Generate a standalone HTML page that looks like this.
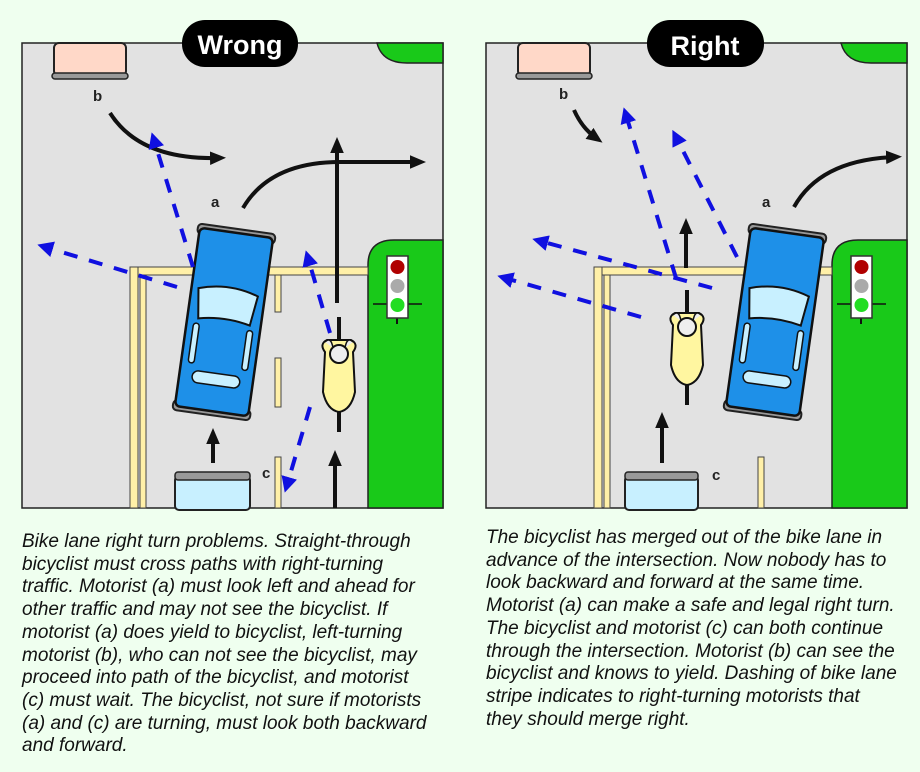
<!DOCTYPE html>
<html><head><meta charset="utf-8"><style>
html,body{margin:0;padding:0;background:#efffef;}
body{width:920px;height:772px;position:relative;overflow:hidden;font-family:"Liberation Sans",sans-serif;}
.t{position:absolute;font-style:italic;font-size:19px;line-height:22.7px;color:#111;white-space:nowrap;}
</style></head><body>
<svg width="920" height="772" style="position:absolute;left:0;top:0">
<defs>
<marker id="ah" markerWidth="4" markerHeight="4" refX="2" refY="2" orient="auto" markerUnits="strokeWidth"><path d="M0,0.3 L4,2 L0,3.7 Z" fill="#111"/></marker>
<marker id="bh" markerWidth="4" markerHeight="4" refX="2" refY="2" orient="auto" markerUnits="strokeWidth"><path d="M0,0 L4,2 L0,4 Z" fill="#1010e0"/></marker>
<g id="car">
<rect x="-39" y="-94" width="78" height="10" rx="4" fill="#999" stroke="#222" stroke-width="2"/>
<rect x="-39" y="84" width="78" height="10" rx="4" fill="#999" stroke="#222" stroke-width="2"/>
<rect x="-37" y="-90" width="74" height="180" rx="5" fill="#1e90e8" stroke="#111" stroke-width="2.5"/>
<path d="M-30,-30 Q0,-40 30,-30 L26,0 Q0,-6 -26,0 Z" fill="#c8f0ff" stroke="#111" stroke-width="2"/>
<rect x="-30" y="5" width="6" height="40" rx="3" fill="#c8f0ff" stroke="#111" stroke-width="1.5"/>
<rect x="24" y="5" width="6" height="40" rx="3" fill="#c8f0ff" stroke="#111" stroke-width="1.5"/>
<rect x="-24" y="52" width="48" height="12" rx="6" fill="#c8f0ff" stroke="#111" stroke-width="1.5"/>
</g>
<g id="bike">
<line x1="0" y1="-55" x2="0" y2="60" stroke="#111" stroke-width="4"/>
<path d="M-14,-20 Q-20,-28 -12,-32 L12,-32 Q20,-28 14,-20 L16,20 Q12,38 0,40 Q-12,38 -16,20 Z" fill="#fff6a0" stroke="#111" stroke-width="2"/>
<circle cx="0" cy="-18" r="9" fill="#eee" stroke="#111" stroke-width="2"/>
<path d="M-14,-30 Q-8,-36 -6,-24 M14,-30 Q8,-36 6,-24" fill="#eee" stroke="#111" stroke-width="1.5"/>
</g>
<g id="light">
<line x1="-14" y1="48" x2="35" y2="48" stroke="#111" stroke-width="1.5"/>
<line x1="10" y1="60" x2="10" y2="68" stroke="#111" stroke-width="2"/>
<rect x="0" y="0" width="21" height="62" fill="#fff" stroke="#333" stroke-width="1.5"/>
<circle cx="10.5" cy="11" r="7" fill="#b00000"/>
<circle cx="10.5" cy="30" r="7" fill="#aaa"/>
<circle cx="10.5" cy="49" r="7" fill="#22dd22"/>
</g>
<g id="base">
<rect x="0" y="0" width="421" height="465" fill="#e2e2e2" stroke="#222" stroke-width="1.5"/>
<path d="M355,0 Q360,20 385,20 L421,20 L421,0 Z" fill="#19c919" stroke="#222" stroke-width="1.5"/>
<path d="M346,465 L346,222 Q346,197 372,197 L421,197 L421,465 Z" fill="#19c919" stroke="#222" stroke-width="1.5"/>
<rect x="108" y="224" width="238" height="8" fill="#fff0a8" stroke="#444" stroke-width="1"/>
<rect x="108" y="224" width="8" height="241" fill="#fff0a8" stroke="#444" stroke-width="1"/>
<rect x="118" y="232" width="6" height="233" fill="#fff0a8" stroke="#444" stroke-width="1"/>
<rect x="32" y="0" width="72" height="33" rx="5" fill="#ffd8c8" stroke="#222" stroke-width="2"/>
<rect x="30" y="30" width="76" height="6" rx="3" fill="#999" stroke="#222" stroke-width="1.5"/>
<use href="#light" x="365" y="213"/>
</g>
</defs>

<!-- LEFT PANEL -->
<g transform="translate(22,43)">
<use href="#base"/>
<rect x="253" y="232" width="6" height="37" fill="#fff0a8" stroke="#444" stroke-width="1"/>
<rect x="253" y="315" width="6" height="49" fill="#fff0a8" stroke="#444" stroke-width="1"/>
<rect x="253" y="414" width="6" height="51" fill="#fff0a8" stroke="#444" stroke-width="1"/>
<rect x="153" y="433" width="75" height="34" rx="4" fill="#c8f0ff" stroke="#222" stroke-width="2"/>
<rect x="153" y="429" width="75" height="8" rx="3" fill="#999" stroke="#222" stroke-width="1.5"/>
</g>
<g fill="none" stroke="#111" stroke-width="4">
<path d="M110,113 Q140,160 218,158" marker-end="url(#ah)"/>
<path d="M243,208 Q270,162 340,162 L418,162" marker-end="url(#ah)"/>
<path d="M337,303 L337,145" marker-end="url(#ah)"/>
<path d="M213,463 L213,436" marker-end="url(#ah)"/>
<path d="M335,508 L335,458" marker-end="url(#ah)"/>
</g>
<g transform="translate(224,322) rotate(8)"><use href="#car"/></g>
<g transform="translate(339,372)"><use href="#bike"/></g>
<g fill="none" stroke="#1010e0" stroke-width="4" stroke-dasharray="14,12">
<path d="M177,287 L45,247" marker-end="url(#bh)"/>
<path d="M193,267 L154,140" marker-end="url(#bh)"/>
<path d="M330,333 L308,258" marker-end="url(#bh)"/>
<path d="M310,407 L287,485" marker-end="url(#bh)"/>
</g>
<rect x="182" y="20" width="116" height="47" rx="23" fill="#000"/>
<text x="240" y="54" text-anchor="middle" font-family="Liberation Sans" font-weight="bold" font-size="27" fill="#fff">Wrong</text>
<g font-family="Liberation Sans" font-weight="bold" font-size="15" fill="#222">
<text x="93" y="101">b</text><text x="211" y="207">a</text><text x="262" y="478">c</text>
</g>

<!-- RIGHT PANEL -->
<g transform="translate(486,43)">
<use href="#base"/>
<rect x="272" y="414" width="6" height="51" fill="#fff0a8" stroke="#444" stroke-width="1"/>
<rect x="139" y="433" width="73" height="34" rx="4" fill="#c8f0ff" stroke="#222" stroke-width="2"/>
<rect x="139" y="429" width="73" height="8" rx="3" fill="#999" stroke="#222" stroke-width="1.5"/>
</g>
<g fill="none" stroke="#111" stroke-width="4">
<path d="M574,110 Q582,128 596,138" marker-end="url(#ah)"/>
<path d="M794,207 Q820,160 894,157" marker-end="url(#ah)"/>
<path d="M686,268 L686,226" marker-end="url(#ah)"/>
<path d="M662,463 L662,420" marker-end="url(#ah)"/>
</g>
<g transform="translate(775,322) rotate(8)"><use href="#car"/></g>
<g transform="translate(687,345)"><use href="#bike"/></g>
<g fill="none" stroke="#1010e0" stroke-width="4" stroke-dasharray="14,12">
<path d="M641,317 L505,278" marker-end="url(#bh)"/>
<path d="M712,288 L540,241" marker-end="url(#bh)"/>
<path d="M676,278 L626,115" marker-end="url(#bh)"/>
<path d="M737,257 L676,137" marker-end="url(#bh)"/>
</g>
<rect x="647" y="20" width="117" height="47" rx="23" fill="#000"/>
<text x="705" y="55" text-anchor="middle" font-family="Liberation Sans" font-weight="bold" font-size="27" fill="#fff">Right</text>
<g font-family="Liberation Sans" font-weight="bold" font-size="15" fill="#222">
<text x="559" y="99">b</text><text x="762" y="207">a</text><text x="712" y="480">c</text>
</g>
</svg>

<div class="t" style="left:22px;top:531px">Bike lane right turn problems. Straight-through<br>bicyclist must cross paths with right-turning<br>traffic. Motorist (a) must look left and ahead for<br>other traffic and may not see the bicyclist. If<br>motorist (a) does yield to bicyclist, left-turning<br>motorist (b), who can not see the bicyclist, may<br>proceed into path of the bicyclist, and motorist<br>(c) must wait. The bicyclist, not sure if motorists<br>(a) and (c) are turning, must look both backward<br>and forward.</div>
<div class="t" style="left:486px;top:527px">The bicyclist has merged out of the bike lane in<br>advance of the intersection. Now nobody has to<br>look backward and forward at the same time.<br>Motorist (a) can make a safe and legal right turn.<br>The bicyclist and motorist (c) can both continue<br>through the intersection. Motorist (b) can see the<br>bicyclist and knows to yield. Dashing of bike lane<br>stripe indicates to right-turning motorists that<br>they should merge right.</div>
</body></html>
